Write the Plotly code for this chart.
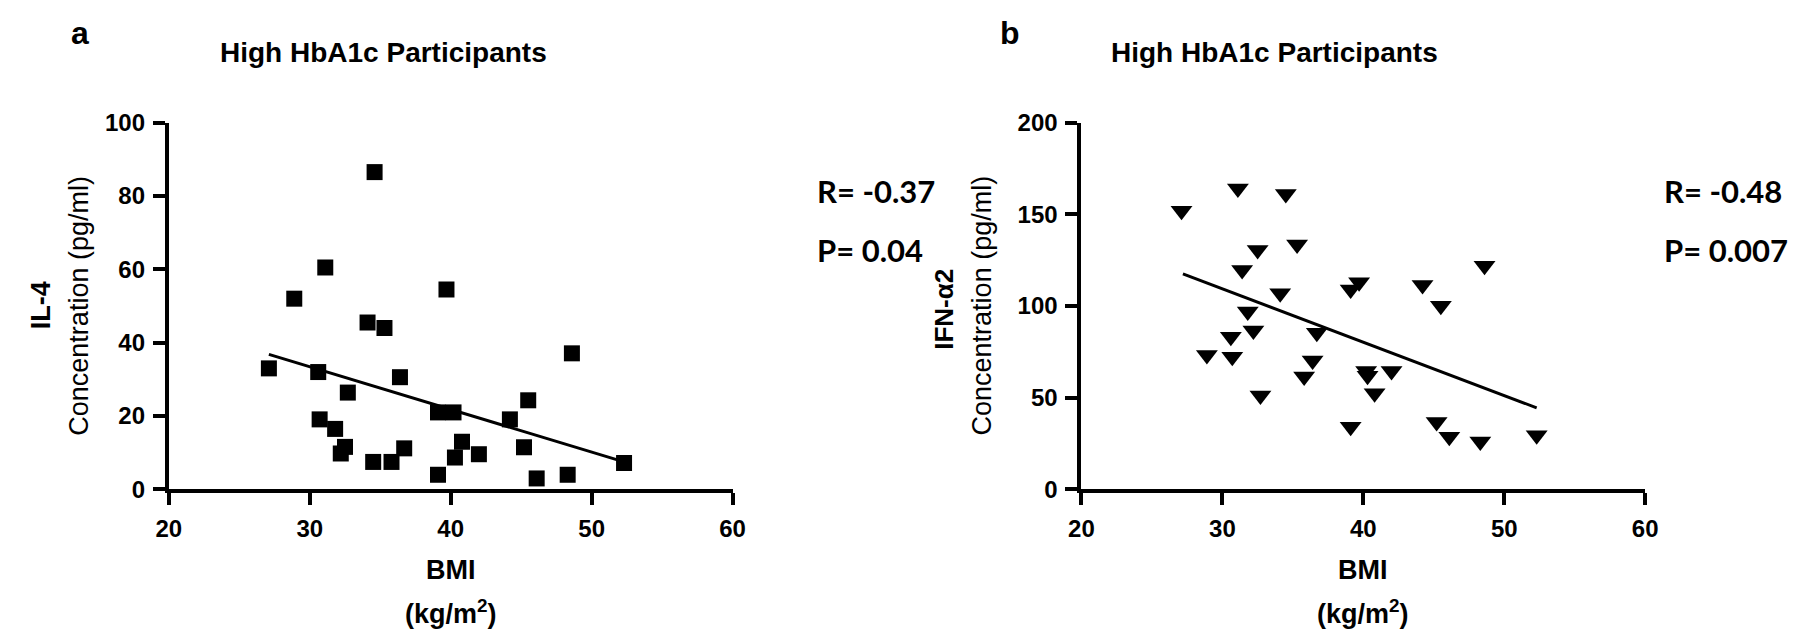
import plotly.graph_objects as go

W, H = 1800, 641

# ---- data ----
bmi_a = [27.1, 28.9, 30.6, 30.7, 31.1, 31.8, 32.2, 32.5, 32.7, 34.1, 34.5, 34.6, 35.3, 35.8, 36.4,
         36.7, 39.1, 39.1, 39.7, 40.2, 40.3, 40.8, 42.0, 44.2, 45.2, 45.5, 46.1, 48.3, 48.6, 52.3]
il4 = [33.0, 52.0, 32.0, 19.1, 60.5, 16.5, 9.8, 11.6, 26.4, 45.5, 7.5, 86.5, 44.0, 7.5, 30.6,
       11.2, 21.0, 4.0, 54.5, 21.0, 8.7, 13.0, 9.6, 19.1, 11.5, 24.3, 3.0, 4.0, 37.1, 7.2]

bmi_b = [27.1, 28.9, 30.6, 30.7, 31.1, 31.4, 31.8, 32.2, 32.5, 32.7, 34.1, 34.5, 35.3, 35.8, 36.4,
         36.7, 39.1, 39.1, 39.7, 40.2, 40.3, 40.8, 42.0, 44.2, 45.2, 45.5, 46.1, 48.3, 48.6, 52.3]
ifn = [152.0, 73.3, 83.2, 72.4, 164.0, 119.6, 97.0, 86.6, 130.6, 51.2, 107.0, 161.0, 133.5, 61.6, 70.3,
       85.4, 109.0, 34.2, 113.0, 64.6, 62.0, 52.4, 64.6, 111.5, 36.8, 100.2, 28.7, 26.1, 122.0, 29.6]

fit_a_x = [27.1, 52.3]
fit_a_y = [36.8, 7.5]
fit_b_x = [27.2, 52.3]
fit_b_y = [117.5, 44.5]

x_ticks = [20, 30, 40, 50, 60]
y_ticks_a = [0, 20, 40, 60, 80, 100]
y_ticks_b = [0, 50, 100, 150, 200]

stats_a = ["R= -0.37", "P= 0.04"]
stats_b = ["R= -0.48", "P= 0.007"]


def px(x):
    return x / W


def py(y):
    return 1 - y / H


FONT = "Liberation Sans"

fig = go.Figure()
fig.add_trace(go.Scatter(x=bmi_a, y=il4, mode="markers", xaxis="x", yaxis="y", cliponaxis=False,
                         marker=dict(symbol="square", size=16, color="black")))
fig.add_trace(go.Scatter(x=fit_a_x, y=fit_a_y, mode="lines", xaxis="x", yaxis="y",
                         line=dict(color="black", width=3)))
fig.add_trace(go.Scatter(x=bmi_b, y=ifn, mode="markers", xaxis="x2", yaxis="y2", cliponaxis=False,
                         marker=dict(symbol="triangle-down", size=19, color="black")))
fig.add_trace(go.Scatter(x=fit_b_x, y=fit_b_y, mode="lines", xaxis="x2", yaxis="y2",
                         line=dict(color="black", width=3)))

axis_common = dict(showline=True, linewidth=4, linecolor="black", ticks="outside", ticklen=12,
                   tickwidth=4, tickcolor="black", showgrid=False, zeroline=False,
                   ticklabelstandoff=3,
                   tickfont=dict(family=FONT, size=24, color="black", weight="bold"))

ya_dom = [py(488), py(105)]
fig.update_layout(
    width=W, height=H, margin=dict(l=0, r=0, t=0, b=0),
    paper_bgcolor="white", plot_bgcolor="white", showlegend=False,
    xaxis=dict(domain=[px(150), px(722)], range=[20, 60], tickvals=x_ticks, anchor="y", **axis_common),
    yaxis=dict(domain=ya_dom, range=[0, 100], tickvals=y_ticks_a, anchor="x", **axis_common),
    xaxis2=dict(domain=[px(1076), px(1648)], range=[20, 60], tickvals=x_ticks, anchor="y2", **axis_common),
    yaxis2=dict(domain=ya_dom, range=[0, 200], tickvals=y_ticks_b, anchor="x2", **axis_common),
)

ann = []


def text(x, y, s, size, bold=True, family=FONT, angle=0, xanchor="center"):
    ann.append(dict(x=px(x), y=py(y), xref="paper", yref="paper", text=s, showarrow=False,
                    textangle=angle, xanchor=xanchor, yanchor="middle",
                    font=dict(family=family, size=size, color="black", weight="bold" if bold else "normal")))


# panel letters and titles
text(60, 12, "a", 32)
text(1004, 12, "b", 32)
text(368, 32, "High HbA1c Participants", 28)
text(1272, 32, "High HbA1c Participants", 28)

# y-axis titles
text(20, 296, "IL-4", 27, angle=-90)
text(58, 296, "Concentration (pg/ml)", 27, bold=False, angle=-90)
text(937, 300, "IFN-α2", 26, angle=-90)
text(975, 296, "Concentration (pg/ml)", 27, bold=False, angle=-90)

# x-axis titles
for cx in (436, 1362):
    text(cx, 572, "BMI", 27)
    text(cx, 616, "(kg/m<sup>2</sup>)", 27)

# stats
text(806, 176, stats_a[0], 31, family="Lato", xanchor="left")
text(806, 238, stats_a[1], 31, family="Lato", xanchor="left")
text(1665, 176, stats_b[0], 31, family="Lato", xanchor="left")
text(1665, 238, stats_b[1], 31, family="Lato", xanchor="left")

fig.update_layout(annotations=ann)
fig.write_html("out.html")
